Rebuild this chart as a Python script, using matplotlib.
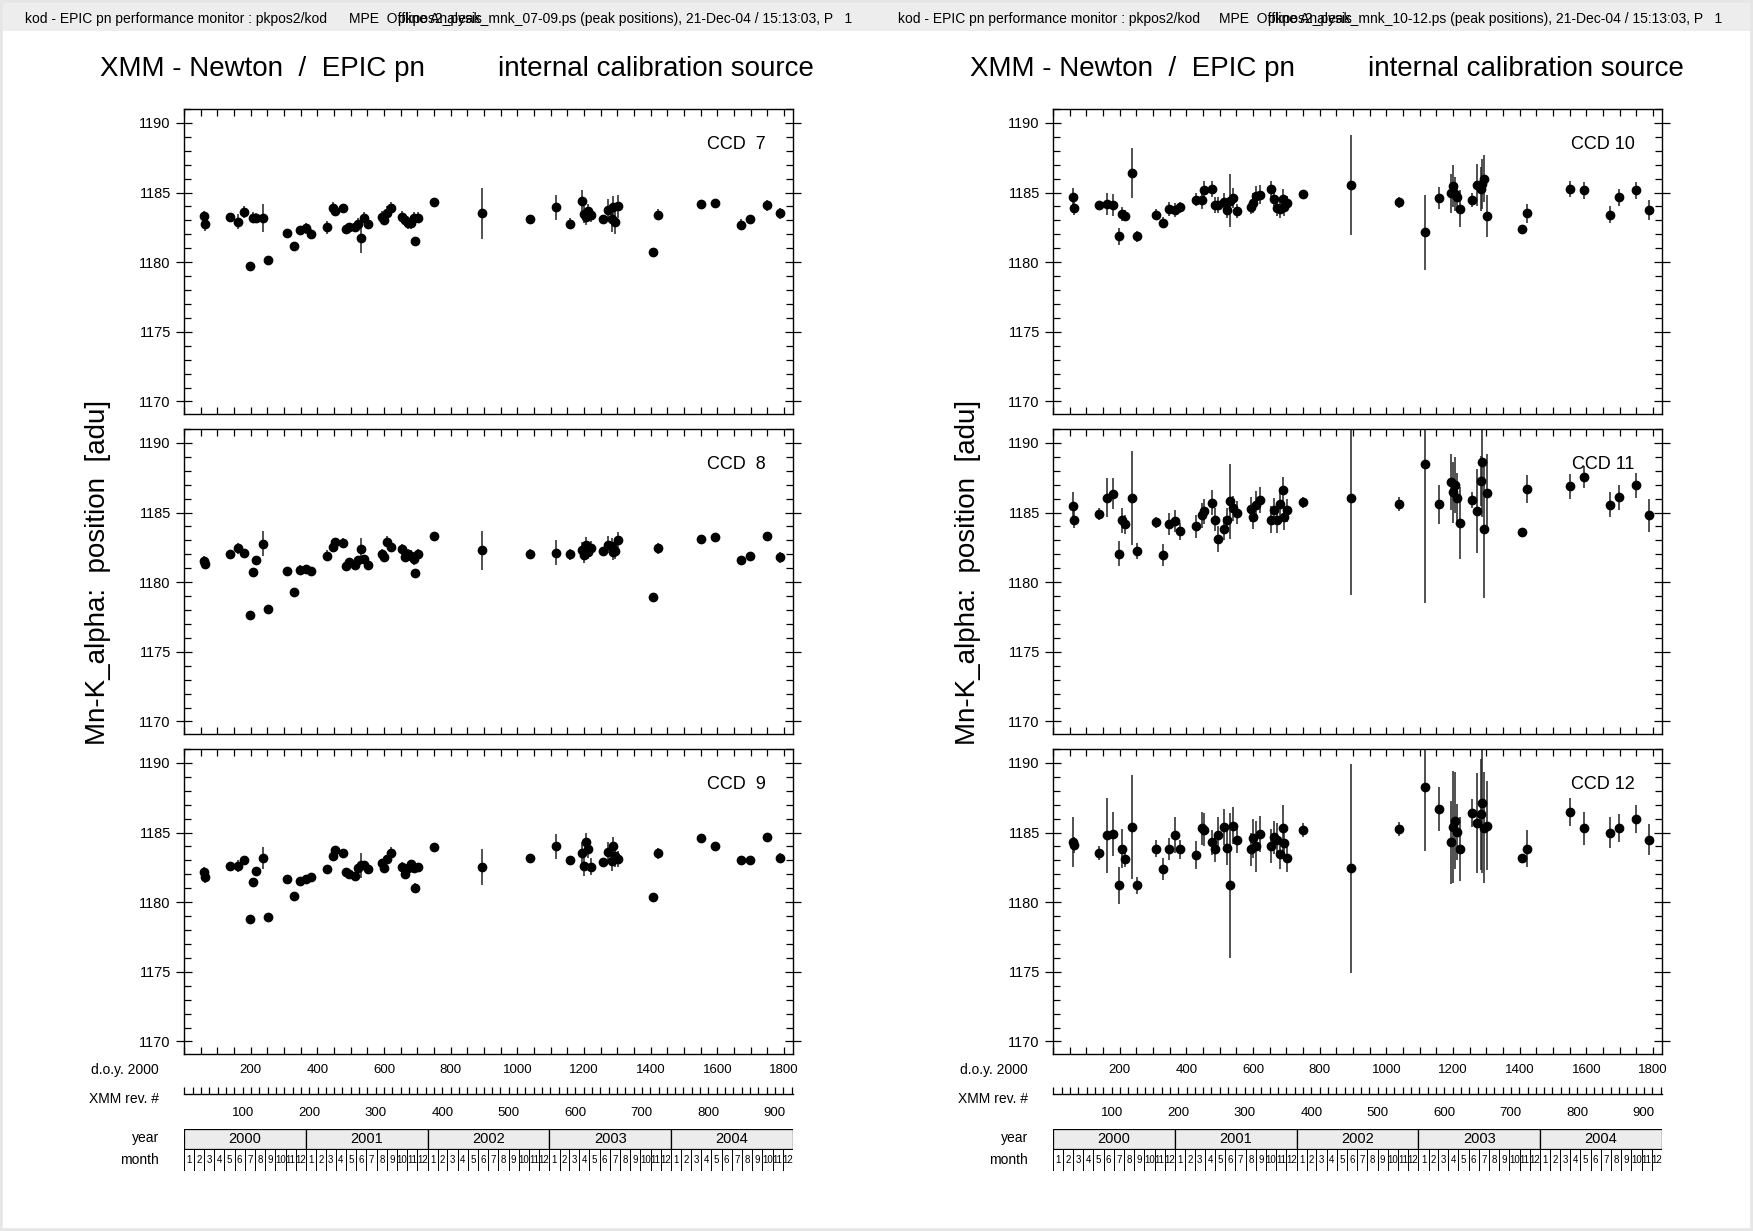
#EPIC pn internal calibration source - Mn-K_alpha peak positions, CCD 7-12
import numpy as np
import matplotlib
matplotlib.use("Agg")
import matplotlib.pyplot as plt
import matplotlib.patches as mpatches
from matplotlib.ticker import MultipleLocator

plt.rcParams['font.family'] = ['Liberation Sans', 'DejaVu Sans']

#day of year 2000 for each calibration observation (same for all ccds)
doy = [61, 62, 139, 163, 179, 199, 206, 217, 237, 253,
       308, 330, 347, 366, 382, 428, 446, 453, 476, 485,
       494, 512, 522, 530, 541, 552, 593, 600, 610, 620,
       654, 663, 671, 681, 691, 694, 702, 751, 895, 1037,
       1116, 1158, 1195, 1200, 1207, 1212, 1222, 1256, 1273, 1283,
       1288, 1294, 1303, 1406, 1423, 1551, 1592, 1671, 1698, 1750,
       1789]

#peak positions [adu]
ccd7 = [1183.35, 1182.75, 1183.25, 1182.9, 1183.6, 1179.7, 1183.2, 1183.2, 1183.2, 1180.15,
        1182.1, 1181.15, 1182.3, 1182.45, 1182.0, 1182.5, 1183.9, 1183.7, 1183.9, 1182.35,
        1182.5, 1182.5, 1182.75, 1181.75, 1183.2, 1182.75, 1183.25, 1183.05, 1183.55, 1183.9,
        1183.25, 1183.0, 1182.8, 1182.85, 1183.2, 1181.5, 1183.2, 1184.3, 1183.5, 1183.1,
        1183.95, 1182.75, 1184.4, 1183.45, 1183.25, 1183.65, 1183.4, 1183.1, 1183.75, 1183.1,
        1183.95, 1182.9, 1184.0, 1180.75, 1183.4, 1184.2, 1184.25, 1182.7, 1183.1, 1184.1,
        1183.5]
err7 = [0.35, 0.5, 0.3, 0.55, 0.45, 0.3, 0.4, 0.35, 1.0, 0.25,
        0.3, 0.3, 0.3, 0.4, 0.35, 0.45, 0.4, 0.4, 0.3, 0.35,
        0.35, 0.35, 0.4, 1.1, 0.4, 0.4, 0.4, 0.4, 0.5, 0.4,
        0.4, 0.4, 0.4, 0.5, 0.4, 0.3, 0.4, 0.3, 1.8, 0.3,
        0.9, 0.4, 0.8, 0.6, 0.6, 0.5, 0.5, 0.3, 0.8, 0.9,
        0.8, 0.9, 0.8, 0.2, 0.4, 0.3, 0.3, 0.4, 0.3, 0.4,
        0.4]

ccd8 = [1181.5, 1181.3, 1182.0, 1182.45, 1182.1, 1177.65, 1180.7, 1181.6, 1182.75, 1178.05,
        1180.8, 1179.3, 1180.9, 1180.95, 1180.8, 1181.9, 1182.55, 1182.9, 1182.85, 1181.15,
        1181.45, 1181.2, 1181.6, 1182.35, 1181.65, 1181.2, 1182.0, 1181.8, 1182.9, 1182.55,
        1182.35, 1181.8, 1182.05, 1181.9, 1181.65, 1180.65, 1182.05, 1183.3, 1182.3, 1182.05,
        1182.1, 1182.0, 1182.3, 1181.95, 1182.65, 1182.2, 1182.45, 1182.25, 1182.7, 1182.6,
        1182.2, 1182.25, 1183.0, 1178.95, 1182.45, 1183.1, 1183.25, 1181.6, 1181.85, 1183.3,
        1181.8]
err8 = [0.4, 0.3, 0.3, 0.4, 0.3, 0.3, 0.3, 0.3, 0.9, 0.3,
        0.3, 0.3, 0.3, 0.3, 0.3, 0.4, 0.4, 0.3, 0.3, 0.3,
        0.3, 0.3, 0.3, 0.8, 0.3, 0.3, 0.4, 0.3, 0.4, 0.4,
        0.4, 0.3, 0.3, 0.4, 0.4, 0.3, 0.3, 0.3, 1.4, 0.3,
        0.9, 0.4, 0.6, 0.6, 0.6, 0.5, 0.5, 0.3, 0.6, 0.6,
        0.6, 0.6, 0.6, 0.2, 0.4, 0.3, 0.3, 0.3, 0.3, 0.3,
        0.4]

ccd9 = [1182.2, 1181.8, 1182.6, 1182.6, 1183.0, 1178.8, 1181.45, 1182.25, 1183.15, 1178.95,
        1181.7, 1180.45, 1181.55, 1181.65, 1181.8, 1182.4, 1183.35, 1183.75, 1183.55, 1182.15,
        1182.0, 1181.9, 1182.45, 1182.65, 1182.65, 1182.4, 1182.8, 1182.45, 1183.1, 1183.55,
        1182.5, 1182.0, 1182.45, 1182.75, 1182.45, 1181.05, 1182.5, 1183.95, 1182.55, 1183.15,
        1184.0, 1183.05, 1183.5, 1182.6, 1184.3, 1183.8, 1182.55, 1182.9, 1183.6, 1182.95,
        1184.0, 1183.3, 1183.1, 1180.4, 1183.5, 1184.6, 1184.05, 1183.05, 1183.05, 1184.7,
        1183.2]
err9 = [0.3, 0.4, 0.2, 0.4, 0.3, 0.2, 0.3, 0.3, 0.8, 0.2,
        0.2, 0.2, 0.2, 0.2, 0.2, 0.3, 0.3, 0.3, 0.2, 0.2,
        0.3, 0.3, 0.3, 0.9, 0.3, 0.3, 0.3, 0.3, 0.3, 0.4,
        0.4, 0.3, 0.3, 0.3, 0.3, 0.3, 0.3, 0.2, 1.3, 0.2,
        0.9, 0.3, 0.8, 0.7, 0.7, 0.6, 0.6, 0.2, 0.7, 0.7,
        0.7, 0.8, 0.6, 0.2, 0.4, 0.2, 0.3, 0.2, 0.2, 0.3,
        0.3]

ccd10 = [1184.7, 1183.9, 1184.1, 1184.2, 1184.1, 1181.85, 1183.45, 1183.35, 1186.4, 1181.85,
         1183.4, 1182.85, 1183.8, 1183.75, 1183.95, 1184.5, 1184.45, 1185.2, 1185.25, 1184.1,
         1184.1, 1184.3, 1183.75, 1184.4, 1184.6, 1183.7, 1183.95, 1184.25, 1184.75, 1184.85,
         1185.25, 1184.55, 1183.9, 1183.8, 1184.55, 1183.95, 1184.25, 1184.9, 1185.55, 1184.3,
         1182.15, 1184.6, 1184.95, 1185.45, 1184.9, 1184.65, 1183.85, 1184.45, 1185.55, 1185.25,
         1185.6, 1186.0, 1183.3, 1182.4, 1183.5, 1185.25, 1185.15, 1183.4, 1184.65, 1185.15,
         1183.75]
err10 = [0.6, 0.5, 0.3, 0.8, 0.8, 0.6, 0.5, 0.4, 1.8, 0.4,
         0.4, 0.4, 0.5, 0.5, 0.4, 0.5, 0.6, 0.6, 0.6, 0.6,
         0.6, 0.7, 0.6, 1.9, 0.7, 0.5, 0.5, 0.7, 0.7, 0.7,
         0.6, 0.7, 0.6, 0.6, 0.7, 0.6, 0.5, 0.3, 3.6, 0.4,
         2.7, 0.8, 1.4, 1.5, 1.2, 1.0, 1.3, 0.5, 1.5, 1.6,
         1.8, 1.7, 1.5, 0.3, 0.7, 0.6, 0.6, 0.6, 0.6, 0.6,
         0.7]

ccd11 = [1185.45, 1184.5, 1184.9, 1186.05, 1186.35, 1182.05, 1184.45, 1184.15, 1186.05, 1182.25,
         1184.3, 1181.95, 1184.2, 1184.4, 1183.65, 1184.0, 1184.8, 1185.1, 1185.7, 1184.5,
         1183.1, 1183.85, 1184.5, 1185.8, 1185.3, 1185.0, 1185.25, 1184.65, 1185.55, 1185.9,
         1184.5, 1185.15, 1184.5, 1185.6, 1186.65, 1184.65, 1185.15, 1185.75, 1186.05, 1185.6,
         1188.5, 1185.6, 1187.2, 1186.45, 1187.0, 1186.05, 1184.25, 1185.9, 1185.1, 1187.25,
         1188.65, 1183.85, 1186.4, 1183.6, 1186.7, 1186.9, 1187.55, 1185.55, 1186.1, 1186.95,
         1184.8]
err11 = [1.0, 0.6, 0.4, 1.4, 1.1, 0.9, 0.9, 0.7, 3.4, 0.6,
         0.4, 0.8, 0.8, 0.8, 0.6, 0.8, 0.9, 0.9, 0.9, 0.8,
         0.9, 0.8, 0.8, 2.7, 0.9, 0.8, 0.9, 0.8, 1.0, 0.9,
         1.0, 0.9, 1.0, 0.9, 0.9, 0.9, 0.8, 0.4, 7.0, 0.5,
         10.0, 1.4, 2.0, 2.2, 2.0, 1.8, 2.6, 0.6, 3.0, 1.8,
         4.0, 5.0, 2.8, 0.3, 1.0, 0.9, 0.8, 0.9, 0.9, 0.9,
         1.2]

ccd12 = [1184.3, 1184.1, 1183.55, 1184.8, 1184.9, 1181.2, 1183.85, 1183.1, 1185.4, 1181.2,
         1183.85, 1182.4, 1183.8, 1184.8, 1183.8, 1183.4, 1185.3, 1185.2, 1184.3, 1183.8,
         1184.8, 1185.4, 1183.9, 1181.2, 1185.5, 1184.5, 1183.8, 1184.6, 1184.0, 1184.9,
         1184.05, 1184.65, 1184.5, 1183.45, 1185.3, 1184.25, 1183.15, 1185.2, 1182.45, 1185.25,
         1188.3, 1186.7, 1184.3, 1185.4, 1185.85, 1185.05, 1183.85, 1186.4, 1185.7, 1186.3,
         1187.1, 1185.35, 1185.5, 1183.15, 1183.85, 1186.5, 1185.3, 1185.0, 1185.3, 1186.0,
         1184.5]
err12 = [1.8, 0.6, 0.5, 2.7, 1.6, 1.3, 1.4, 0.6, 3.7, 0.6,
         0.6, 0.8, 0.8, 1.3, 0.7, 1.0, 1.2, 1.2, 0.9, 0.9,
         1.3, 1.3, 1.2, 5.2, 1.3, 1.0, 1.2, 1.4, 1.8, 1.3,
         1.2, 1.2, 1.2, 1.1, 1.7, 1.0, 1.0, 0.5, 7.5, 0.5,
         4.6, 1.6, 3.0, 4.0, 3.5, 2.0, 2.3, 1.0, 3.6, 4.0,
         5.0, 4.0, 3.2, 0.3, 1.3, 1.0, 1.2, 1.1, 1.0, 1.0,
         1.1]

#calendar for the year / month boxes
years = [2000, 2001, 2002, 2003, 2004]
month_days = {2000: [31, 29, 31, 30, 31, 30, 31, 31, 30, 31, 30, 31],
              2001: [31, 28, 31, 30, 31, 30, 31, 31, 30, 31, 30, 31],
              2002: [31, 28, 31, 30, 31, 30, 31, 31, 30, 31, 30, 31],
              2003: [31, 28, 31, 30, 31, 30, 31, 31, 30, 31, 30, 31],
              2004: [31, 29, 31, 30, 31, 30, 31, 31, 30, 31, 30, 31]}
doy_ticks = [200, 400, 600, 800, 1000, 1200, 1400, 1600, 1800]
rev_ticks = [100, 200, 300, 400, 500, 600, 700, 800, 900]
#XMM revolution <-> day of year 2000 (one orbit ~ 2 days)
rev_day0 = -23.6
rev_len = 1.996

W, H = 1753, 1231
fig = plt.figure(figsize=(W / 100, H / 100), dpi=100)
ndays = sum(sum(month_days[y]) for y in years)

def fx(px):
    return px / W

def fy(px):
    return 1 - px / H

#header line like the postscript output (the two texts overlap there too)
def header(x_start, x_mpe, x_end, fname):
    fig.text(fx(x_start), fy(19), "kod - EPIC pn performance monitor : pkpos2/kod",
             fontsize=10, va='center', ha='left')
    fig.text(fx(x_mpe), fy(19), "MPE  Offline Analysis", fontsize=10, va='center', ha='left')
    fig.text(fx(x_end), fy(19), fname + " (peak positions), 21-Dec-04 / 15:13:03, P   1",
             fontsize=10, va='center', ha='right')

#one ccd panel
def panel(x0, top, vals, errs, name, bottom=False):
    ax = fig.add_axes([fx(x0), fy(top + 305), fx(609), 305 / H])
    ax.errorbar(doy, vals, yerr=errs, fmt='o', ms=6, color='black', ecolor='#222222',
                elinewidth=1.1, capsize=0)
    ax.set_xlim(0, ndays)
    ax.set_ylim(1169.1, 1191.0)
    ax.xaxis.set_major_locator(MultipleLocator(200))
    ax.xaxis.set_minor_locator(MultipleLocator(50))
    ax.yaxis.set_major_locator(MultipleLocator(5))
    ax.yaxis.set_minor_locator(MultipleLocator(1))
    ax.tick_params(axis='x', which='both', direction='in', top=True, bottom=True, length=5, width=0.9,
                   labelbottom=bottom, labelsize=9.5, pad=7)
    ax.tick_params(axis='y', which='major', direction='inout', left=True, right=True, length=11,
                   width=0.9, labelsize=10.5, pad=4)
    ax.tick_params(axis='y', which='minor', direction='in', left=True, right=True, length=5, width=0.9)
    if bottom:
        ax.set_xticks(doy_ticks)
    for s in ax.spines.values():
        s.set_linewidth(1.0)
    ax.text(0.955 if len(name) < 7 else 0.968, 0.882, name, transform=ax.transAxes,
            ha='right', va='center', fontsize=13)
    return ax

#rev axis + year/month boxes under the panels
def time_axes(x0, xl):
    fig.text(fx(xl), fy(1070), "d.o.y. 2000", ha='right', va='center', fontsize=10)
    fig.text(fx(xl), fy(1099), "XMM rev. #", ha='right', va='center', fontsize=10)
    fig.text(fx(xl), fy(1138), "year", ha='right', va='center', fontsize=10)
    fig.text(fx(xl), fy(1160), "month", ha='right', va='center', fontsize=10)

    rax = fig.add_axes([fx(x0), fy(1094), fx(609), 0.0001])
    rax.set_xlim((0 - rev_day0) / rev_len, (ndays - rev_day0) / rev_len)
    rax.set_yticks([])
    for s in ['left', 'right', 'top']:
        rax.spines[s].set_visible(False)
    rax.spines['bottom'].set_linewidth(1.0)
    rax.set_xticks(rev_ticks)
    rax.xaxis.set_minor_locator(MultipleLocator(12.5))
    rax.tick_params(axis='x', which='both', direction='in', length=5, width=0.9, labelsize=9.5, pad=9)

    cax = fig.add_axes([fx(x0), fy(1171), fx(609), 42 / H])
    cax.set_xlim(0, ndays)
    cax.set_ylim(0, 2.15)
    cax.axis('off')
    start = 0
    for y in years:
        ylen = sum(month_days[y])
        cax.add_patch(mpatches.Rectangle((start, 1.15), ylen, 1, facecolor='#ececec',
                                         edgecolor='black', linewidth=0.9))
        cax.text(start + ylen / 2, 1.65, str(y), ha='center', va='center', fontsize=10.5)
        m0 = start
        for m, md in enumerate(month_days[y]):
            cax.add_patch(mpatches.Rectangle((m0, 0), md, 1.15, facecolor='white',
                                             edgecolor='black', linewidth=0.7))
            cax.text(m0 + md / 2, 0.56, str(m + 1), ha='center', va='center', fontsize=7)
            m0 += md
        start += ylen

def column(x0, xl, xtitle, ylx, ccds):
    fig.text(fx(xtitle), fy(69), "XMM - Newton  /  EPIC pn", fontsize=20, ha='left', va='center')
    fig.text(fx(xtitle + 398), fy(69), "internal calibration source", fontsize=20, ha='left', va='center')
    fig.text(fx(ylx), fy(572), "Mn-K_alpha:  position  [adu]", rotation=90, fontsize=20,
             ha='center', va='center')
    tops = [109, 429, 749]
    for i, (vals, errs, name) in enumerate(ccds):
        panel(x0, tops[i], vals, errs, name, bottom=(i == 2))
    time_axes(x0, xl)

#gray strip on top and thin frame
fig.patches.append(mpatches.Rectangle((0, fy(31)), 1, 31 / H, transform=fig.transFigure,
                                      facecolor='#ededed', edgecolor='none', zorder=0))
fig.patches.append(mpatches.Rectangle((0, 0), 1, 1, transform=fig.transFigure,
                                      facecolor='none', edgecolor='#e6e6e6', linewidth=4, zorder=0))
header(25, 349, 852, "pkpos2_peak_mnk_07-09.ps")
header(898, 1219, 1722, "pkpos2_peak_mnk_10-12.ps")

column(184, 159, 100, 98, [(ccd7, err7, "CCD  7"), (ccd8, err8, "CCD  8"), (ccd9, err9, "CCD  9")])
column(1053, 1028, 970, 968, [(ccd10, err10, "CCD 10"), (ccd11, err11, "CCD 11"), (ccd12, err12, "CCD 12")])

fig.savefig("out.png", dpi=100)
